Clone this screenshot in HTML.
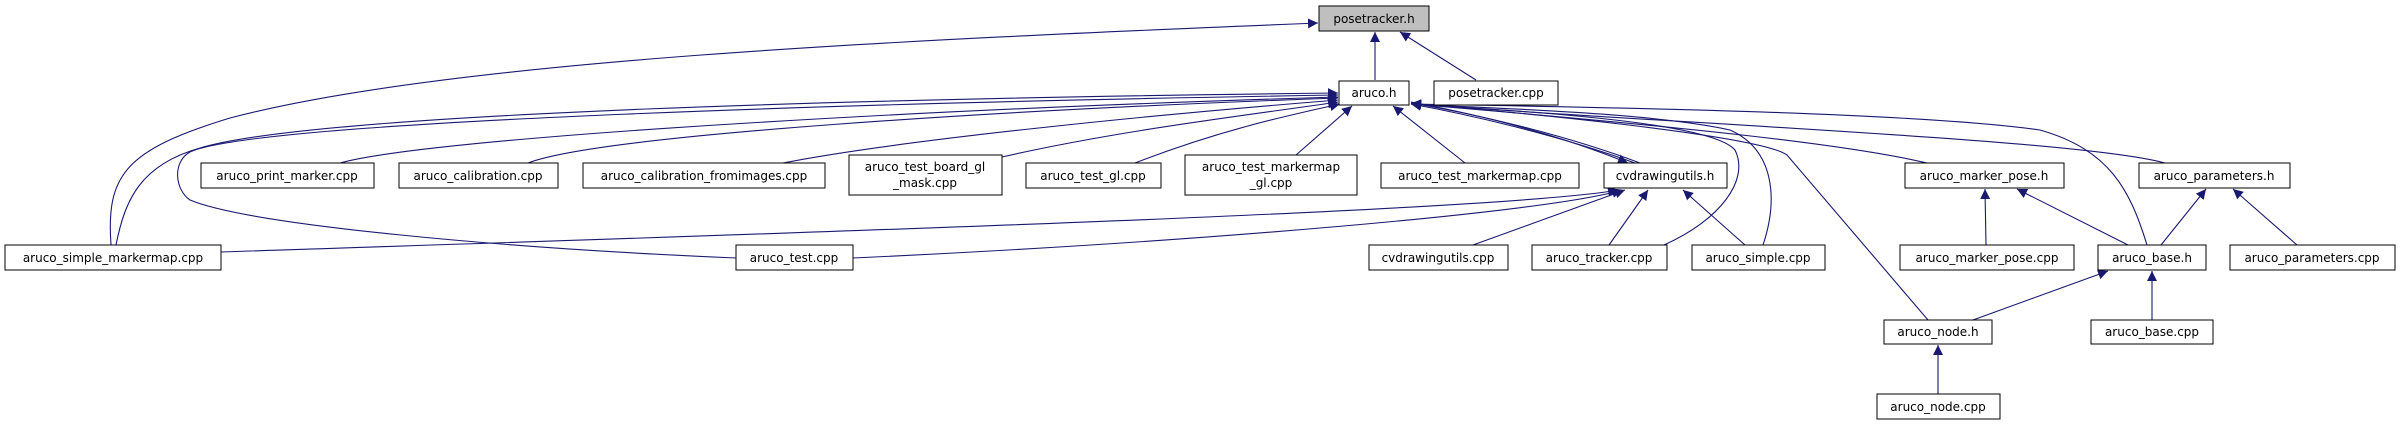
<!DOCTYPE html>
<html><head><meta charset="utf-8"><style>
html,body{margin:0;padding:0;background:#fff;}
svg{display:block;}
text{font-family:"DejaVu Sans","Liberation Sans",sans-serif;font-size:12px;fill:#000;}
.b{fill:#fff;stroke:#000;stroke-width:1;}
.e{fill:none;stroke:#191970;stroke-width:1.1;}
</style></head><body>
<svg width="2407" height="425" viewBox="0 0 2407 425" xmlns="http://www.w3.org/2000/svg">
<defs>
<marker id="a" viewBox="0 0 10 10" refX="10" refY="5" markerWidth="10" markerHeight="10" markerUnits="userSpaceOnUse" orient="auto">
<path d="M0,0 L10,5 L0,10 z" fill="#191970"/>
</marker>
</defs>
<g class="e" marker-end="url(#a)">
<!-- to posetracker.h -->
<path d="M111,245 C106,175 125,150 230,118 C450,60 900,40 1318,23"/>
<path d="M1375,80 L1375,32"/>
<path d="M1476,80 L1400,32"/>
<!-- to aruco.h left -->
<path d="M116,245 C125,200 140,165 200,148 C320,112 900,98 1338,93"/>
<path d="M736,258 C500,248 250,225 190,200 C175,190 172,162 190,152 C260,120 900,102 1338,95"/>
<path d="M340,163 C430,138 900,110 1338,97"/>
<path d="M528,163 C600,135 1000,110 1338,98"/>
<path d="M783,163 C900,140 1150,115 1338,100"/>
<path d="M1002,157 C1120,130 1250,115 1338,102"/>
<path d="M1135,163 C1220,130 1290,115 1340,104"/>
<path d="M1296,155 L1352,106"/>
<path d="M1465,163 L1393,106"/>
<!-- to aruco.h right -->
<path d="M1640,163 C1560,133 1470,113 1411,103"/>
<path d="M1635,163 C1555,134 1466,114 1411,104"/>
<path d="M1664,245 C1720,220 1750,180 1735,150 C1710,120 1500,110 1411,104"/>
<path d="M1763,245 C1778,200 1775,150 1730,130 C1650,112 1480,108 1411,104"/>
<path d="M1928,320 L1787,155 C1760,135 1500,110 1411,104"/>
<path d="M1927,163 C1850,145 1700,128 1411,104"/>
<path d="M2165,163 C2080,140 1700,125 1411,104"/>
<path d="M2147,245 C2130,190 2110,150 2040,130 C1900,110 1500,106 1411,104"/>
<path d="M1411,102 C1480,115 1560,135 1628,163"/>
<!-- to cvdrawingutils.h -->
<path d="M221,252 C700,236 1500,212 1618,190"/>
<path d="M853,258 C1200,242 1550,212 1622,190"/>
<path d="M1473,245 L1625,190"/>
<path d="M1609,245 L1648,190"/>
<path d="M1745,245 L1683,190"/>
<!-- lower tree -->
<path d="M1986,245 L1985,189"/>
<path d="M2128,245 L2017,189"/>
<path d="M2161,245 L2206,189"/>
<path d="M2297,245 L2233,189"/>
<path d="M1973,320 L2108,271"/>
<path d="M2152,320 L2152,271"/>
<path d="M1938,394 L1938,345"/>
</g>
<g>
<rect x="1319" y="6" width="110" height="25" fill="#bfbfbf" stroke="#000"/><text x="1374" y="23" text-anchor="middle">posetracker.h</text>
<rect class="b" x="1339" y="81" width="70" height="24"/><text x="1374" y="97" text-anchor="middle">aruco.h</text>
<rect class="b" x="1434" y="81" width="124" height="24"/><text x="1496" y="97" text-anchor="middle">posetracker.cpp</text>

<rect class="b" x="201" y="163" width="173" height="25"/><text x="287" y="180" text-anchor="middle">aruco_print_marker.cpp</text>
<rect class="b" x="399" y="163" width="159" height="25"/><text x="478" y="180" text-anchor="middle">aruco_calibration.cpp</text>
<rect class="b" x="583" y="163" width="242" height="25"/><text x="704" y="180" text-anchor="middle">aruco_calibration_fromimages.cpp</text>
<rect class="b" x="849" y="155" width="153" height="40"/><text x="925" y="171" text-anchor="middle">aruco_test_board_gl</text><text x="925" y="187" text-anchor="middle">_mask.cpp</text>
<rect class="b" x="1026" y="163" width="135" height="25"/><text x="1093" y="180" text-anchor="middle">aruco_test_gl.cpp</text>
<rect class="b" x="1185" y="155" width="172" height="40"/><text x="1271" y="171" text-anchor="middle">aruco_test_markermap</text><text x="1271" y="187" text-anchor="middle">_gl.cpp</text>
<rect class="b" x="1381" y="163" width="198" height="25"/><text x="1480" y="180" text-anchor="middle">aruco_test_markermap.cpp</text>
<rect class="b" x="1604" y="163" width="123" height="25"/><text x="1665" y="180" text-anchor="middle">cvdrawingutils.h</text>
<rect class="b" x="1905" y="163" width="159" height="25"/><text x="1984" y="180" text-anchor="middle">aruco_marker_pose.h</text>
<rect class="b" x="2139" y="163" width="151" height="25"/><text x="2214" y="180" text-anchor="middle">aruco_parameters.h</text>

<rect class="b" x="5" y="245" width="216" height="25"/><text x="113" y="262" text-anchor="middle">aruco_simple_markermap.cpp</text>
<rect class="b" x="736" y="245" width="117" height="25"/><text x="794" y="262" text-anchor="middle">aruco_test.cpp</text>
<rect class="b" x="1369" y="245" width="139" height="25"/><text x="1438" y="262" text-anchor="middle">cvdrawingutils.cpp</text>
<rect class="b" x="1532" y="245" width="135" height="25"/><text x="1599" y="262" text-anchor="middle">aruco_tracker.cpp</text>
<rect class="b" x="1692" y="245" width="133" height="25"/><text x="1758" y="262" text-anchor="middle">aruco_simple.cpp</text>
<rect class="b" x="1900" y="245" width="174" height="25"/><text x="1987" y="262" text-anchor="middle">aruco_marker_pose.cpp</text>
<rect class="b" x="2098" y="245" width="108" height="25"/><text x="2152" y="262" text-anchor="middle">aruco_base.h</text>
<rect class="b" x="2230" y="245" width="165" height="25"/><text x="2312" y="262" text-anchor="middle">aruco_parameters.cpp</text>

<rect class="b" x="1884" y="320" width="108" height="24"/><text x="1938" y="336" text-anchor="middle">aruco_node.h</text>
<rect class="b" x="2091" y="320" width="122" height="24"/><text x="2152" y="336" text-anchor="middle">aruco_base.cpp</text>
<rect class="b" x="1877" y="394" width="123" height="25"/><text x="1938" y="411" text-anchor="middle">aruco_node.cpp</text>
</g>
</svg>
</body></html>
